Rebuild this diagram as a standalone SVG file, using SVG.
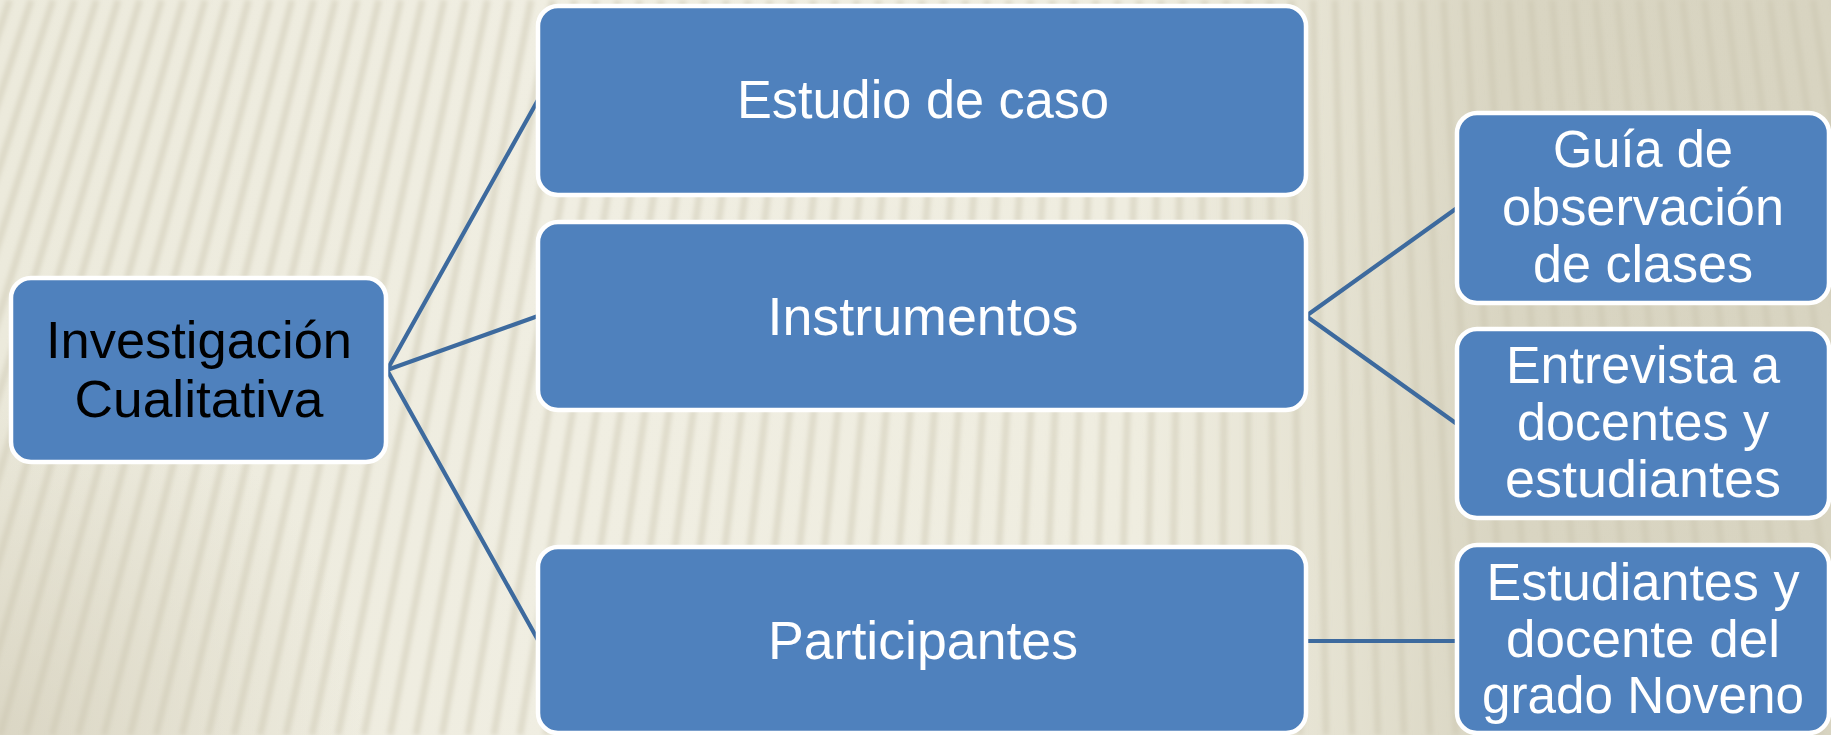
<svg xmlns="http://www.w3.org/2000/svg" width="1831" height="735" viewBox="0 0 1831 735">
<defs>
<style>
.box{fill:#4F81BD;stroke:#FFFFFF;stroke-width:4.5}
.conn{stroke:#3D6A9E;stroke-width:4.2;fill:none;stroke-linecap:round}
.t{font-family:"Liberation Sans",Arial,sans-serif;text-anchor:middle;fill:#FFFFFF}
.tb{font-family:"Liberation Sans",Arial,sans-serif;text-anchor:middle;fill:#000000}
</style>
<linearGradient id="bgH" x1="0" y1="0" x2="1" y2="0">
<stop offset="0" stop-color="#ECEADC"/>
<stop offset="0.3" stop-color="#F0EEE2"/>
<stop offset="0.62" stop-color="#EFEDE0"/>
<stop offset="0.72" stop-color="#E6E3D3"/>
<stop offset="0.82" stop-color="#D9D5C2"/>
<stop offset="1" stop-color="#D8D4C1"/>
</linearGradient>
<radialGradient id="bl" cx="0" cy="1" r="0.5" gradientUnits="objectBoundingBox" gradientTransform="scale(0.4,1)">
<stop offset="0" stop-color="#D6D1BE" stop-opacity="0.8"/>
<stop offset="1" stop-color="#D6D1BE" stop-opacity="0"/>
</radialGradient>
<filter id="soft" x="-5%" y="-5%" width="110%" height="110%">
<feGaussianBlur stdDeviation="2"/>
</filter>
</defs>
<g id="background">
<rect x="0" y="0" width="1831" height="735" fill="url(#bgH)"/>
<rect x="0" y="0" width="1831" height="735" fill="url(#bl)"/>
<path filter="url(#soft)" stroke="#C9C5AF" stroke-opacity="0.45" stroke-width="7" fill="none" d="M-260,735L-12,0 M-234,735L9.5,0 M-208,735L31.2,0 M-182,735L52.9,0 M-156,735L74.6,0 M-130,735L96.4,0 M-104,735L118.1,0 M-78,735L139.8,0 M-52,735L161.5,0 M-26,735L183.3,0 M0,735L205,0 M26,735L226.7,0 M52,735L248.5,0 M78,735L270.2,0 M104,735L291.9,0 M130,735L313.7,0 M156,735L335.4,0 M182,735L357.1,0 M208,735L378.8,0 M234,735L400.6,0 M260,735L422.3,0 M286,735L444,0 M312,735L465.8,0 M338,735L487.5,0 M364,735L509.2,0 M390,735L531,0 M416,735L552.7,0 M442,735L574.4,0 M468,735L596.1,0 M494,735L617.9,0 M520,735L639.6,0 M546,735L661.3,0 M572,735L683.1,0 M598,735L704.8,0 M624,735L726.5,0 M650,735L748.3,0 M676,735L770,0 M702,735L791.7,0 M728,735L813.4,0 M754,735L835.2,0 M780,735L856.9,0 M806,735L878.6,0 M832,735L900.4,0 M858,735L922.1,0 M884,735L943.8,0 M910,735L965.6,0 M936,735L987.3,0 M962,735L1009,0 M988,735L1030.7,0 M1014,735L1052.5,0 M1040,735L1074.2,0 M1066,735L1095.9,0 M1092,735L1117.7,0 M1118,735L1139.4,0 M1144,735L1161.1,0 M1170,735L1182.9,0 M1196,735L1204.6,0 M1222,735L1226.3,0 M1248,735L1248,0 M1274,735L1269.8,0 M1300,735L1291.5,0 M1326,735L1313.2,0 M1352,735L1335,0 M1378,735L1356.7,0 M1404,735L1378.4,0 M1430,735L1400.2,0 M1456,735L1421.9,0 M1482,735L1443.6,0 M1508,735L1465.3,0 M1534,735L1487.1,0 M1560,735L1508.8,0 M1586,735L1530.5,0 M1612,735L1552.3,0 M1638,735L1574,0 M1664,735L1595.7,0 M1690,735L1617.5,0 M1716,735L1639.2,0 M1742,735L1660.9,0 M1768,735L1682.6,0 M1794,735L1704.4,0 M1820,735L1726.1,0 M1846,735L1747.8,0 M1872,735L1769.6,0 M1898,735L1791.3,0 M1924,735L1813,0 M1950,735L1834.8,0"/>
</g>
<g id="connectors">
<line class="conn" x1="387" y1="370" x2="538" y2="100"/>
<line class="conn" x1="387" y1="370" x2="538" y2="316"/>
<line class="conn" x1="387" y1="370" x2="538" y2="640"/>
<line class="conn" x1="1306" y1="316" x2="1457" y2="208"/>
<line class="conn" x1="1306" y1="316" x2="1457" y2="424"/>
<line class="conn" x1="1306" y1="641" x2="1457" y2="641"/>
</g>
<g id="n-root">
<rect class="box" x="11" y="278" width="375" height="184" rx="20"/>
<text class="tb" x="199" y="358" font-size="52" textLength="306" lengthAdjust="spacingAndGlyphs">Investigación</text>
<text class="tb" x="199" y="417" font-size="52" textLength="249" lengthAdjust="spacingAndGlyphs">Cualitativa</text>
</g>
<g id="n-estudio">
<rect class="box" x="538" y="6" width="768" height="189" rx="20"/>
<text class="t" x="923" y="118" font-size="54" textLength="372" lengthAdjust="spacingAndGlyphs">Estudio de caso</text>
</g>
<g id="n-instrumentos">
<rect class="box" x="538" y="222" width="768" height="188" rx="20"/>
<text class="t" x="923" y="335" font-size="54" textLength="311" lengthAdjust="spacingAndGlyphs">Instrumentos</text>
</g>
<g id="n-participantes">
<rect class="box" x="538" y="547" width="768" height="186" rx="20"/>
<text class="t" x="923" y="659" font-size="54" textLength="310" lengthAdjust="spacingAndGlyphs">Participantes</text>
</g>
<g id="n-guia">
<rect class="box" x="1457" y="113" width="372" height="190" rx="20"/>
<text class="t" x="1643" y="167" font-size="51" textLength="180" lengthAdjust="spacingAndGlyphs">Guía de</text>
<text class="t" x="1643" y="225" font-size="51" textLength="282" lengthAdjust="spacingAndGlyphs">observación</text>
<text class="t" x="1643" y="282" font-size="51" textLength="220" lengthAdjust="spacingAndGlyphs">de clases</text>
</g>
<g id="n-entrevista">
<rect class="box" x="1457" y="329" width="372" height="189" rx="20"/>
<text class="t" x="1643" y="383" font-size="51" textLength="274" lengthAdjust="spacingAndGlyphs">Entrevista a</text>
<text class="t" x="1643" y="440" font-size="51" textLength="252" lengthAdjust="spacingAndGlyphs">docentes y</text>
<text class="t" x="1643" y="497" font-size="51" textLength="276" lengthAdjust="spacingAndGlyphs">estudiantes</text>
</g>
<g id="n-estudiantes">
<rect class="box" x="1457" y="545" width="372" height="188" rx="20"/>
<text class="t" x="1643" y="600" font-size="51" textLength="313" lengthAdjust="spacingAndGlyphs">Estudiantes y</text>
<text class="t" x="1643" y="657" font-size="51" textLength="274" lengthAdjust="spacingAndGlyphs">docente del</text>
<text class="t" x="1643" y="713" font-size="51" textLength="322" lengthAdjust="spacingAndGlyphs">grado Noveno</text>
</g>
</svg>
